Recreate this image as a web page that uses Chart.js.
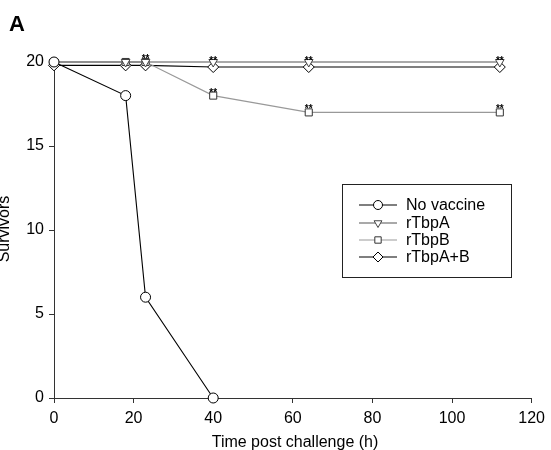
<!DOCTYPE html>
<html>
<head>
<meta charset="utf-8">
<script src="https://cdn.jsdelivr.net/npm/chart.js@4/dist/chart.umd.min.js"></script>
<style>
  body { margin: 0; background: #fff; }
  #wrap { width: 551px; height: 450px; position: relative; }
</style>
</head>
<body>
<div id="wrap"><canvas id="survChart" width="551" height="450"></canvas></div>
<script>
// Survivors over time after challenge
const seriesNames = ['No vaccine', 'rTbpA', 'rTbpB', 'rTbpA+B'];
const noVaccineTimes = [0, 18, 23, 40];
const noVaccineValues = [20, 18, 6, 0];
const vaccineTimes = [0, 18, 23, 40, 64, 112];
const rTbpAValues = [20, 20, 20, 20, 20, 20];
const rTbpBValues = [20, 20, 20, 18, 17, 17];
const rTbpABValues = [19.8, 19.8, 19.8, 19.7, 19.7, 19.7];
// "**" marks (significance) per point
const rTbpBStars = [false, false, false, true, true, true];
const rTbpABStars = [false, false, true, true, true, true];
const xTicks = [0, 20, 40, 60, 80, 100, 120];
const yTicks = [0, 5, 10, 15, 20];

const FONT = 'Liberation Sans, Arial, sans-serif';

function toPoints(xs, ys) {
  return xs.map((x, i) => ({ x: x, y: ys[i] }));
}

const styles = [
  { line: '#000', border: '#000', pointStyle: 'circle', radius: 5, rotation: 0, starLift: 0 },
  { line: '#555', border: '#444', pointStyle: 'triangle', radius: 5, rotation: 180, starLift: 0 },
  { line: '#999', border: '#333', pointStyle: 'rect', radius: 5, rotation: 0, starLift: 0 },
  { line: '#000', border: '#000', pointStyle: 'rectRot', radius: 5.5, rotation: 0, starLift: 3 }
];

const seriesData = [
  toPoints(noVaccineTimes, noVaccineValues),
  toPoints(vaccineTimes, rTbpAValues),
  toPoints(vaccineTimes, rTbpBValues),
  toPoints(vaccineTimes, rTbpABValues)
];
const seriesStars = [null, null, rTbpBStars, rTbpABStars];

const datasets = seriesNames.map((name, i) => ({
  label: name,
  data: seriesData[i],
  borderColor: styles[i].line,
  borderWidth: 1.1,
  pointStyle: styles[i].pointStyle,
  pointRadius: styles[i].radius,
  pointRotation: styles[i].rotation,
  pointBackgroundColor: '#fff',
  pointBorderColor: styles[i].border,
  pointBorderWidth: 1,
  tension: 0,
  fill: false,
  clip: false
}));

// draws stars, legend box and titles
const extrasPlugin = {
  id: 'extras',
  afterDatasetsDraw(chart) {
    const ctx = chart.ctx;
    const xs = chart.scales.x, ys = chart.scales.y;
    ctx.save();
    ctx.fillStyle = '#000';
    ctx.font = 'bold 10px ' + FONT;
    ctx.textAlign = 'center';
    ctx.textBaseline = 'alphabetic';
    seriesStars.forEach((stars, i) => {
      if (!stars) return;
      seriesData[i].forEach((p, j) => {
        if (!stars[j]) return;
        ctx.fillText('**', xs.getPixelForValue(p.x), ys.getPixelForValue(p.y) - styles[i].starLift);
      });
    });

    // legend box
    ctx.strokeStyle = '#222';
    ctx.lineWidth = 1;
    ctx.fillStyle = '#fff';
    ctx.fillRect(342.5, 184.5, 169, 93);
    ctx.strokeRect(342.5, 184.5, 169, 93);
    const rows = [205, 223, 240, 257];
    ctx.font = '16px ' + FONT;
    ctx.textAlign = 'left';
    ctx.textBaseline = 'middle';
    seriesNames.forEach((name, i) => {
      const y = rows[i];
      ctx.strokeStyle = styles[i].line;
      ctx.lineWidth = 1.1;
      ctx.beginPath();
      ctx.moveTo(359, y);
      ctx.lineTo(397, y);
      ctx.stroke();
      ctx.fillStyle = '#fff';
      ctx.strokeStyle = styles[i].border;
      ctx.lineWidth = 1;
      Chart.helpers.drawPoint(ctx, {
        pointStyle: styles[i].pointStyle,
        radius: styles[i].radius - 0.5,
        rotation: styles[i].rotation,
        borderWidth: 1
      }, 378, y);
      ctx.fillStyle = '#000';
      ctx.fillText(name, 406, y + 1);
    });

    // panel letter
    ctx.font = 'bold 22px ' + FONT;
    ctx.textBaseline = 'alphabetic';
    ctx.fillText('A', 9, 31);

    // axis titles
    ctx.font = '16px ' + FONT;
    ctx.textAlign = 'center';
    ctx.fillText('Time post challenge (h)', 295, 447);
    ctx.translate(9, 229);
    ctx.rotate(-Math.PI / 2);
    ctx.font = '16px ' + FONT;
    ctx.fillText('Survivors', 0, 0);
    ctx.restore();
  }
};

new Chart(document.getElementById('survChart').getContext('2d'), {
  type: 'line',
  data: { datasets: datasets },
  options: {
    responsive: false,
    animation: false,
    layout: { padding: { top: 62, right: 14, left: 0, bottom: 0 } },
    plugins: {
      legend: { display: false },
      tooltip: { enabled: false }
    },
    scales: {
      x: {
        type: 'linear',
        min: 0,
        max: 120,
        afterBuildTicks: s => { s.ticks = xTicks.map(v => ({ value: v })); },
        afterFit: s => { s.height = 52; },
        border: { display: true, color: '#333', width: 1 },
        grid: { drawOnChartArea: false, drawTicks: true, tickLength: 5, color: '#333' },
        ticks: { color: '#000', font: { family: FONT, size: 16 }, padding: 6, maxRotation: 0 }
      },
      y: {
        type: 'linear',
        min: 0,
        max: 20,
        afterBuildTicks: s => { s.ticks = yTicks.map(v => ({ value: v })); },
        afterFit: s => { s.width = 54; },
        border: { display: true, color: '#333', width: 1 },
        grid: { drawOnChartArea: false, drawTicks: true, tickLength: 5, color: '#333' },
        ticks: { color: '#000', font: { family: FONT, size: 16 }, padding: 5 }
      }
    }
  },
  plugins: [extrasPlugin]
});
</script>
</body>
</html>
